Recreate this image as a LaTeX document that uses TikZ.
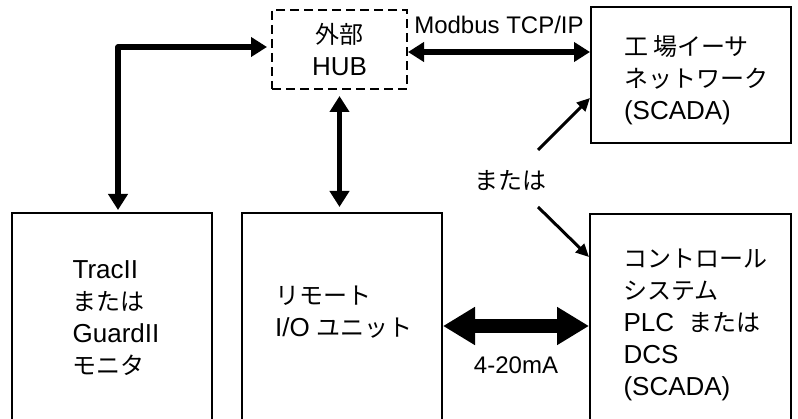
\documentclass[tikz,border=0pt]{standalone}
\usepackage{fontspec}
\setmainfont{Liberation Sans}
\newfontfamily\jpfont{Noto Sans CJK JP}
\usetikzlibrary{arrows.meta}
\newcommand{\ja}[1]{{\jpfont\fontsize{24}{32}\selectfont #1}}

\tikzset{
  blk/.style={draw, line width=2pt, align=left, inner sep=0pt,
    font=\fontsize{26}{32}\selectfont},
  hubblk/.style={blk, dash pattern=on 9pt off 5pt, align=center},
  txt/.style={align=left, inner sep=0pt, font=\fontsize{26}{32}\selectfont},
  bus/.style={line width=5.5pt, line join=round, >={Triangle[length=16pt,width=19pt]}, <->},
  fatbus/.style={line width=14pt, >={Triangle[length=32pt,width=36pt]}, <->},
  hint/.style={line width=3pt, >={Triangle[length=13pt,width=12pt]}, ->},
  lbl/.style={inner sep=0pt, font=\fontsize{24}{28}\selectfont},
}

\begin{document}
\begin{tikzpicture}[x=1pt,y=1pt,yscale=-1,xscale=1]
\useasboundingbox (0,0) rectangle (798,419);
\clip (0,0) rectangle (798,419);

% Blocks
\node[hubblk, minimum width=135, minimum height=79] (hub) at (339.5,49.5) {\ja{外部}\\HUB};
\node[blk, minimum width=200, minimum height=136] (plant) at (691,75) {};
\node[blk, minimum width=200, minimum height=209] (monitor) at (112,317.5) {};
\node[blk, minimum width=200, minimum height=209] (rio) at (342,317.5) {};
\node[blk, minimum width=201, minimum height=208] (ctrl) at (690.5,318) {};

% Text Node
\node[txt] (plant-t) at ([shift={(5,5)}]plant.center) {\ja{工 場イーサ}\\\ja{ネットワーク}\\(SCADA)};
\node[txt] (monitor-t) at ([shift={(4,1)}]monitor.center) {TracII\\\ja{または}\\GuardII\\\ja{モニタ}};
\node[txt] (rio-t) at ([shift={(2,-5)}]rio.center) {\ja{リモート}\\I/O \ja{ユニット}};
\node[txt] (ctrl-t) at ([shift={(5,7)}]ctrl.center) {\ja{コントロール}\\\ja{システム}\\PLC\ \ \ja{または}\\DCS\\(SCADA)};
\node[lbl] (mata) at (510,181) {\ja{または}};

% Links
\draw[bus, shorten >=2pt, shorten <=4pt] ([yshift=-2.5pt]hub.west) -| ([xshift=6pt]monitor.north);
\draw[bus, shorten >=5pt, shorten <=6pt] (hub.south) -- (hub.south |- rio.north);
\draw[bus] ([yshift=2.5pt]hub.east) -- ([yshift=2.5pt]hub.east -| plant.west)
  node[lbl, midway, above=16pt] {Modbus TCP/IP};
\draw[fatbus] ([yshift=8.5pt]rio.east) -- ([yshift=8.5pt]rio.east -| ctrl.west)
  node[lbl, midway, below=24pt] {4-20mA};

% Straight Lines
\coordinate (m1) at (538,150);
\coordinate (m2) at (538,207);
\draw[hint] (m1) -- ([yshift=-46pt]plant.south west);
\draw[hint] (m2) -- ([yshift=44pt]ctrl.north west);

\end{tikzpicture}
\end{document}
